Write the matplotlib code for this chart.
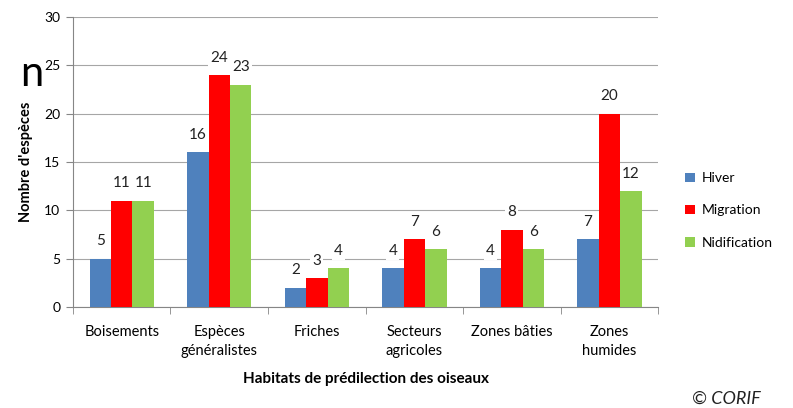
import matplotlib
matplotlib.use('Agg')
import matplotlib.pyplot as plt
import numpy as np

categories = ['Boisements', 'Espèces\ngénéralistes', 'Friches',
              'Secteurs\nagricoles', 'Zones bâties', 'Zones\nhumides']
series_names = ['Hiver', 'Migration', 'Nidification']
hiver = [5, 16, 2, 4, 4, 7]
migration = [11, 24, 3, 7, 8, 20]
nidification = [11, 23, 4, 6, 6, 12]
y_ticks = [0, 5, 10, 15, 20, 25, 30]

colors = ['#4F81BD', '#FF0000', '#92D050']
plt.rcParams['font.family'] = ['Lato', 'DejaVu Sans']


def main():
    fig = plt.figure(figsize=(7.93, 4.08), dpi=100)
    ax = fig.add_axes([0.092, 0.2475, 0.738, 0.7105])

    x = np.arange(len(categories))
    w = 0.22
    for i, (name, vals) in enumerate(zip(series_names,
                                         [hiver, migration, nidification])):
        bars = ax.bar(x + (i - 1) * w, vals, w, color=colors[i], label=name,
                      zorder=3)
        # value labels sit on a white patch that hides the gridline
        for b, v in zip(bars, vals):
            ax.annotate(str(v), (b.get_x() + b.get_width() / 2, v),
                        xytext=(0, 7.5), textcoords='offset points',
                        ha='center', va='bottom', fontsize=11,
                        color='#222222', zorder=4,
                        bbox=dict(fc='white', ec='none', pad=1.5))

    ax.set_xlim(-0.5, len(categories) - 0.5)
    ax.set_ylim(0, 30)
    ax.set_yticks(y_ticks)
    ax.yaxis.grid(True, color='#A6A6A6', linewidth=0.8, zorder=0)
    ax.set_axisbelow(True)

    ax.set_xticks(x)
    ax.set_xticklabels(categories, fontsize=10.5, linespacing=1.45)
    ax.tick_params(axis='x', which='major', length=0, pad=13)
    ax.set_xticks(np.arange(-0.5, len(categories)), minor=True)
    ax.tick_params(axis='x', which='minor', length=5, color='#868686')
    ax.tick_params(axis='y', length=5, color='#868686', labelsize=10,
                   pad=4)

    for s in ['top', 'right']:
        ax.spines[s].set_visible(False)
    for s in ['left', 'bottom']:
        ax.spines[s].set_color('#868686')

    ax.set_ylabel("Nombre d'espèces", fontsize=10.5, fontweight='bold',
                  labelpad=8)
    ax.set_xlabel('Habitats de prédilection des oiseaux', fontsize=11,
                  fontweight='bold', labelpad=10)

    ax.legend(loc='center left', bbox_to_anchor=(1.025, 0.333),
              frameon=False, fontsize=10, handlelength=0.7, handleheight=0.7,
              labelspacing=1.45, handletextpad=0.45)

    fig.text(0.026, 0.79, 'n', fontsize=30, color='black')
    fig.text(0.873, 0.01, '© CORIF', fontsize=13, style='italic',
             color='#222222')

    fig.savefig('out.png', dpi=100)


if __name__ == '__main__':
    main()
